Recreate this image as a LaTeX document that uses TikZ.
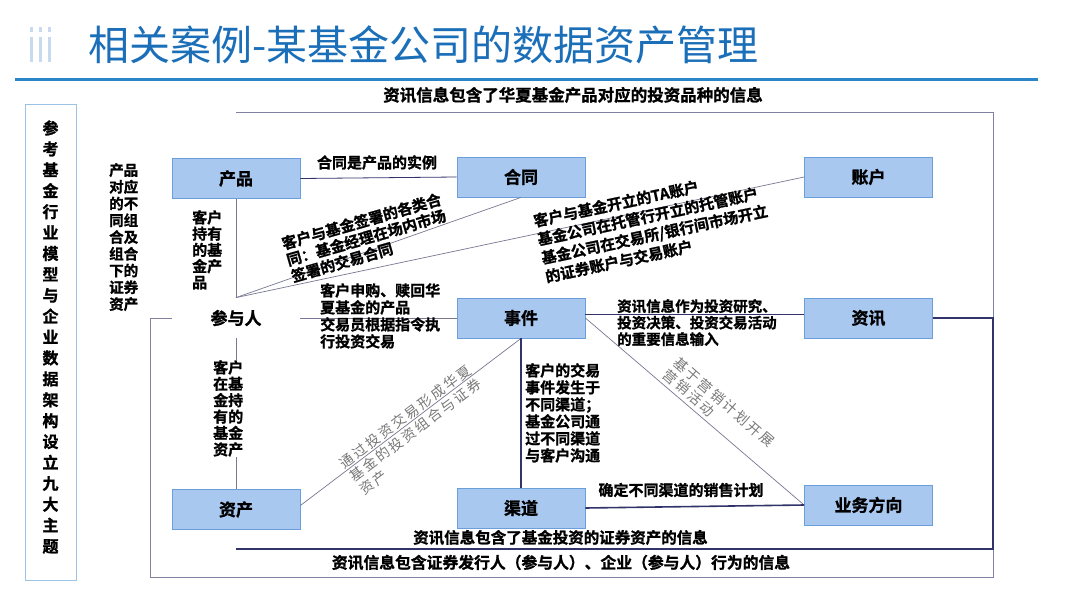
\documentclass[tikz,border=0pt]{standalone}
\usepackage{fontspec}
\setmainfont{Noto Sans CJK SC}[BoldFont={* Bold}, BoldFeatures={FakeBold=1.2}]
\newfontfamily\grayfont{Noto Sans CJK SC}[LetterSpace=16]
\definecolor{boxfill}{RGB}{168,200,240}
\definecolor{boxline}{RGB}{106,159,219}
\definecolor{titleblue}{RGB}{27,111,184}
\definecolor{rulecol}{RGB}{42,134,198}
\definecolor{leftbox}{RGB}{156,194,229}
\definecolor{linegray}{RGB}{120,120,146}
\definecolor{navy}{RGB}{51,51,107}
\definecolor{framecol}{RGB}{128,128,160}
\definecolor{graytxt}{RGB}{120,120,120}
\definecolor{deco}{RGB}{200,218,238}
\begin{document}
\begin{tikzpicture}[x=1pt,y=-1pt,
  box/.style={draw=boxline, fill=boxfill, line width=0.8pt, minimum width=128pt, minimum height=40pt, inner sep=0pt, font=\bfseries\fontsize{17}{20}\selectfont},
  lbl/.style={font=\bfseries\fontsize{15}{17}\selectfont, align=left, inner sep=0pt},
  glbl/.style={font=\grayfont\fontsize{14}{16.8}\selectfont, text=graytxt, align=left, inner sep=0pt},
  thinln/.style={draw=linegray, line width=0.7pt},
  midln/.style={draw=navy, line width=1pt},
  darkln/.style={draw=navy, line width=1.6pt},
  frameln/.style={draw=framecol, line width=1pt}]
\useasboundingbox (0,0) rectangle (1080,608);
\fill[white] (0,0) rectangle (1080,608);

% decoration and title
\foreach \xx in {30,39,48}{
  \fill[deco] (\xx,37) rectangle (\xx+3,62);
  \fill[deco] (\xx,27) rectangle (\xx+3,32);
}
\node[anchor=west, font=\fontsize{41}{44}\selectfont, text=titleblue, inner sep=0pt] (title) at (88,45) {相关案例-某基金公司的数据资产管理};
\coordinate (r1) at (15,79);
\coordinate (r2) at (1038,79);
\draw[rulecol, line width=3pt] (r1) -- (r2);

% left side box
\node[draw=leftbox, line width=0.9pt, minimum width=51pt, minimum height=476pt, inner sep=0pt] (side) at (50.5,342) {};
\node[font=\bfseries\fontsize{16}{20.9}\selectfont, align=center, inner sep=0pt] (sidetxt) at (50.5,337) {参\\考\\基\\金\\行\\业\\模\\型\\与\\企\\业\\数\\据\\架\\构\\设\\立\\九\\大\\主\\题};

% boxes
\node[box] (cp) at (236,178.5) {产品};
\node[box] (ht) at (521,177) {合同};
\node[box] (zh) at (868.5,177) {账户};
\node[box] (sj) at (521,318) {事件};
\node[box] (zx) at (868.5,318) {资讯};
\node[box] (zc) at (236,509.5) {资产};
\node[box] (qd) at (521,508) {渠道};
\node[box] (yw) at (868.5,505) {业务方向};
\node[box, draw=none, fill=none] (cyr) at (236,318) {参与人};

% frame loops
\coordinate (f1) at (236,112);
\coordinate (f2) at (993,112);
\coordinate (f3) at (993,577);
\coordinate (f4) at (150,577);
\coordinate (f5) at (150,318);
\draw[frameln] (f1) -- (f2) -- (f3) -- (f4) -- (f5) -- (cyr.west);
\coordinate (g1) at (993,318);
\coordinate (g2) at (993,549);
\coordinate (g3) at (236,549);
\draw[navy, line width=1.3pt] (zx.east) -- (g1) -- (g2) -- (g3);

% connectors
\draw[midln, line width=0.8pt] (cp.east) -- (ht.west);
\draw[thinln] (cp.south) -- (cyr.north);
\draw[thinln] (cyr.north) -- (ht.south);
\draw[thinln] (cyr.north) -- (zh.west);
\draw[thinln] (cyr.east) -- (sj.west);
\draw[thinln] (cyr.south) -- (zc.north);
\draw[thinln] ([yshift=4pt]zc.east) -- (sj.south);
\draw[midln] ([yshift=4pt]sj.east) -- ([yshift=4pt]zx.west);
\draw[thinln] (sj.east) -- (yw.west);
\draw[darkln] (sj.south) -- (qd.north);
\draw[darkln] (qd.east) -- (yw.west);

% texts
\node[lbl, font=\bfseries\fontsize{16.5}{18}\selectfont] (t1) at (573,95) {资讯信息包含了华夏基金产品对应的投资品种的信息};
\node[lbl, font=\bfseries\fontsize{15.5}{18}\selectfont] (t2) at (560.5,537.5) {资讯信息包含了基金投资的证券资产的信息};
\node[lbl, font=\bfseries\fontsize{15.8}{18}\selectfont] (t3) at (561,562.5) {资讯信息包含证券发行人（参与人）、企业（参与人）行为的信息};

\node[lbl] (l1) at (377,162.5) {合同是产品的实例};
\node[lbl, rotate=16, anchor=north west] (l2) at (280,237) {客户与基金签署的各类合\\同：基金经理在场内市场\\签署的交易合同};
\node[lbl, font=\bfseries\fontsize{15}{19}\selectfont, rotate=12, anchor=north west] (l3) at (532,214) {客户与基金开立的TA账户\\基金公司在托管行开立的托管账户\\基金公司在交易所/银行间市场开立\\的证券账户与交易账户};
\node[lbl, anchor=north west] (l4) at (320,283) {客户申购、赎回华\\夏基金的产品\\交易员根据指令执\\行投资交易};
\node[lbl, font=\bfseries\fontsize{14.5}{16.5}\selectfont, anchor=north west] (l5) at (617,299) {资讯信息作为投资研究、\\投资决策、投资交易活动\\的重要信息输入};
\node[lbl, anchor=north west] (l6) at (525,363) {客户的交易\\事件发生于\\不同渠道；\\基金公司通\\过不同渠道\\与客户沟通};
\node[lbl] (l7) at (681,490) {确定不同渠道的销售计划};
\node[lbl, font=\bfseries\fontsize{14.5}{16.75}\selectfont, anchor=north west] (l8) at (109,163) {产品\\对应\\的不\\同组\\合及\\组合\\下的\\证券\\资产};
\node[lbl, font=\bfseries\fontsize{15}{16.25}\selectfont, anchor=north west] (l9) at (192,210) {客户\\持有\\的基\\金产\\品};
\node[lbl, font=\bfseries\fontsize{15}{16.4}\selectfont, anchor=north west, fill=white] (l10) at (213,360) {客户\\在基\\金持\\有的\\基金\\资产};
\node[glbl, rotate=37, anchor=north west] (l11) at (337,459.5) {通过投资交易形成华夏\\基金的投资组合与证券\\资产};
\node[glbl, font=\grayfont\fontsize{14}{16}\selectfont, rotate=-41, anchor=north west] (l12) at (680,355) {基于营销计划开展\\营销活动};
\end{tikzpicture}
\end{document}
